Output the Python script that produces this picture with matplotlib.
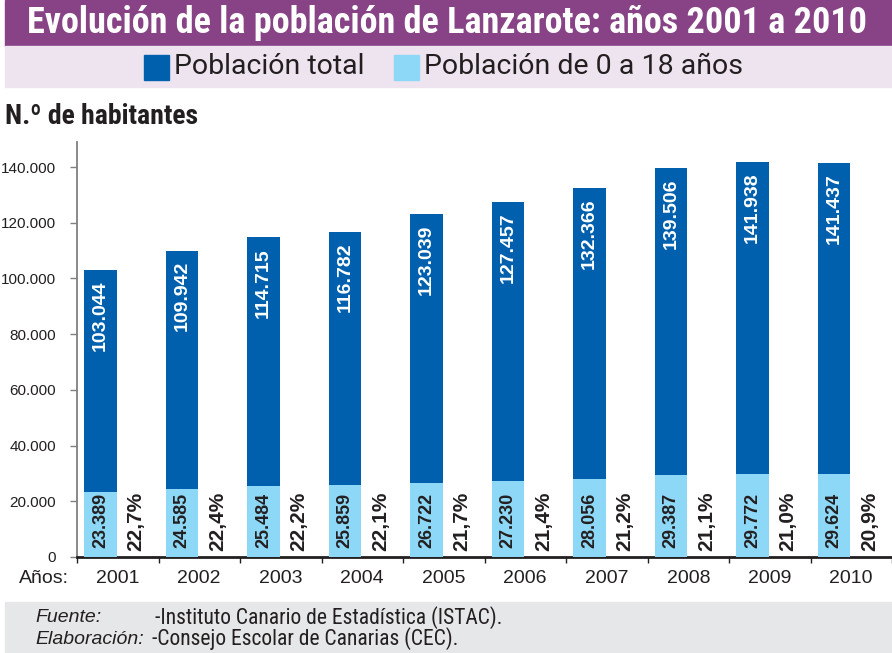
import matplotlib
matplotlib.use("Agg")
import matplotlib.pyplot as plt
from matplotlib.patches import Rectangle
from matplotlib.ticker import FuncFormatter, FixedLocator

# datos
years = ["2001", "2002", "2003", "2004", "2005", "2006", "2007", "2008", "2009", "2010"]
total = [103044, 109942, 114715, 116782, 123039, 127457, 132366, 139506, 141938, 141437]
menores = [23389, 24585, 25484, 25859, 26722, 27230, 28056, 29387, 29772, 29624]
pct = ["22,7%", "22,4%", "22,2%", "22,1%", "21,7%", "21,4%", "21,2%", "21,1%", "21,0%", "20,9%"]

dark = "#0060ad"
light = "#8ed8f7"
purple = "#874386"
lavender = "#ede4ef"
grey = "#e6e7e8"
txt = "#231f20"

cond = ["Roboto Condensed", "DejaVu Sans"]
rob = ["Roboto", "DejaVu Sans"]
arial = ["Liberation Sans", "DejaVu Sans"]

W, H = 892, 653
fig = plt.figure(figsize=(W / 100, H / 100), dpi=100)

def fx(px):
    return px / W

def fy(py):
    return 1 - py / H

# bandas de fondo
fig.patches.append(Rectangle((fx(5), fy(46)), 1, 46 / H, transform=fig.transFigure,
                             color=purple, zorder=0))
fig.patches.append(Rectangle((fx(5), fy(87)), 1, 41 / H, transform=fig.transFigure,
                             color=lavender, zorder=0))
fig.patches.append(Rectangle((fx(5), 0), 1, 51 / H, transform=fig.transFigure,
                             color=grey, zorder=0))

fig.text(fx(447), fy(23), "Evolución de la población de Lanzarote: años 2001 a 2010",
         ha="center", va="center", color="white", fontsize=26, fontweight="bold",
         family=cond)

# leyenda
fig.patches.append(Rectangle((fx(144), fy(80)), 25 / W, 25 / H, transform=fig.transFigure,
                             color=dark))
fig.text(fx(174), fy(67), "Población total", ha="left", va="center", color=txt,
         fontsize=20.5, family=rob)
fig.patches.append(Rectangle((fx(394), fy(80)), 25 / W, 25 / H, transform=fig.transFigure,
                             color=light))
fig.text(fx(424), fy(67), "Población de 0 a 18 años", ha="left", va="center", color=txt,
         fontsize=20.5, family=rob)

fig.text(fx(5), fy(117), "N.º de habitantes", ha="left", va="center", color=txt,
         fontsize=20, fontweight="bold", family=cond)

ax = fig.add_axes([fx(77), fy(557), 1 - fx(77), (557 - 142) / H])

x = range(len(years))
xb = [i - 0.212 for i in x]
ax.bar(xb, total, width=0.404, color=dark, zorder=2)
ax.bar(xb, menores, width=0.404, color=light, zorder=3)

for i in x:
    ax.annotate(f"{total[i]:,}".replace(",", "."), (xb[i], total[i]), xytext=(0, -7.5),
                textcoords="offset points", rotation=90, ha="center", va="top",
                color="white", fontsize=14, fontweight="bold", family=arial, zorder=4)
    ax.annotate(f"{menores[i]:,}".replace(",", "."), (xb[i], 0), xytext=(0, 6.5),
                textcoords="offset points", rotation=90, ha="center", va="bottom",
                color=txt, fontsize=13, fontweight="bold", family=arial, zorder=4)
    ax.annotate(pct[i], (i + 0.222, 0), xytext=(0, 4.5), textcoords="offset points",
                rotation=90, ha="center", va="bottom", color=txt, fontsize=15,
                fontweight="bold", family=arial, zorder=4)

ax.set_xlim(-0.5, len(years) - 0.5)
ax.set_ylim(0, 149000)
ax.yaxis.set_major_locator(FixedLocator(range(0, 140001, 20000)))
ax.yaxis.set_major_formatter(FuncFormatter(lambda v, p: f"{int(v):,}".replace(",", ".")))
ax.xaxis.set_major_locator(FixedLocator([i - 0.5 for i in range(len(years) + 1)]))
ax.xaxis.set_major_formatter(FuncFormatter(lambda v, p: ""))
for i, y in enumerate(years):
    ax.text(i, -0.052, y, transform=ax.get_xaxis_transform(), ha="center", va="center",
            fontsize=14, color=txt, family=arial)
ax.text(-0.6, -0.052, "Años:", transform=ax.get_xaxis_transform(), ha="right", va="center",
        fontsize=14, color=txt, family=arial)

for s in ["top", "right"]:
    ax.spines[s].set_visible(False)
ax.spines["left"].set_color("#808080")
ax.spines["left"].set_linewidth(1.3)
ax.spines["bottom"].set_color(txt)
ax.spines["bottom"].set_linewidth(2)
ax.tick_params(axis="y", length=5, width=1, color="#808080", pad=10, labelsize=11,
               labelcolor=txt)
ax.tick_params(axis="x", length=4, width=1, color=txt)
for lab in ax.get_yticklabels():
    lab.set_family(arial)

# pie
fig.text(fx(35), fy(618), "Fuente:", ha="left", va="center", style="italic", fontsize=14,
         color=txt, family=arial)
fig.text(fx(155), fy(618), "-Instituto Canario de Estadística (ISTAC).", ha="left",
         va="center", fontsize=15.5, color=txt, family=cond)
fig.text(fx(35), fy(639), "Elaboración:", ha="left", va="center", style="italic",
         fontsize=14, color=txt, family=arial)
fig.text(fx(152), fy(639), "-Consejo Escolar de Canarias (CEC).", ha="left",
         va="center", fontsize=15.5, color=txt, family=cond)

fig.savefig("out.png", dpi=100)
